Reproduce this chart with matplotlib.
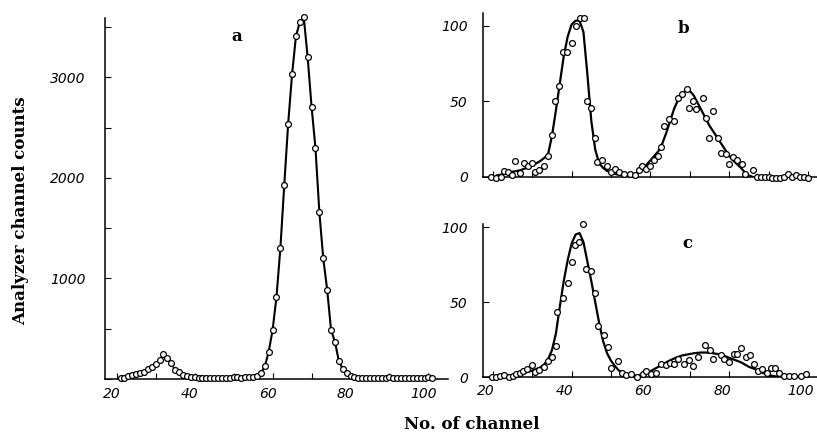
import matplotlib
matplotlib.use("Agg")
import matplotlib.pyplot as plt
import matplotlib.transforms as mtransforms
from matplotlib.ticker import MultipleLocator

# Painel a: contagens por canal (21..101)
a_ch = list(range(21, 102))
a_counts = [8, 15, 25, 38, 45, 56, 73, 95, 120, 150,          # 21-30
            188, 248, 205, 155, 90, 65, 42, 28, 20, 16,       # 31-40
            15, 14, 13, 12, 12, 13, 12, 14, 15, 16,           # 41-50
            18, 15, 16, 18, 22, 30, 60, 125, 270, 485,        # 51-60
            815, 1300, 1930, 2540, 3030, 3410, 3550, 3600, 3200, 2710,  # 61-70
            2300, 1660, 1200, 890, 490, 370, 180, 100, 56, 30,  # 71-80
            20, 15, 12, 12, 13, 12, 14, 15, 13, 16,           # 81-90
            14, 13, 15, 14, 13, 12, 14, 13, 15, 16, 14]       # 91-101

# Painel b: pontos medidos
b_ch = [19.6, 20.7, 22, 22.8, 23.8, 24.9, 25.6, 26.9, 27.9, 29, 30, 30.8, 31.7, 33,
        34, 34.9, 35.9, 36.9, 37.9, 38.9, 40.2, 41, 42.1, 43.1, 43.8, 45, 46, 46.5,
        47.8, 49, 49.9, 51, 52, 53.2, 54.7, 56, 57, 57.9, 59, 60, 61, 62, 62.8, 63.5,
        64.8, 66, 66.9, 68.1, 69.2, 69.8, 70.8, 71.7, 73.4, 74, 74.8, 75.9, 77.2, 77.9,
        79.2, 80, 81, 82.1, 83.2, 84, 86, 87, 88, 89, 90, 91, 92, 93, 94, 95, 96, 97,
        98, 99, 100]
b_counts = [0, -1, 0, 4, 3, 1, 10.6, 2.6, 9.5, 7, 9.5, 3, 4.4, 7,
            14, 28, 50.5, 60, 83, 83, 88.5, 100, 105, 105, 50, 45.8, 25.8, 10,
            11.3, 7.3, 3.6, 5.3, 3, 2, 2, 1.3, 4.7, 7.3, 5, 7.3, 11.3, 14, 20, 34,
            38.5, 37, 52, 55, 58.5, 46, 50, 44.7, 52.5, 39, 26, 43.5, 25.5, 15.8,
            15.3, 8.7, 13, 11.3, 8.7, 1.8, 4.7, 0, 0, 0, 0, -0.5, -1, -1, 0, 2, 0, 1,
            0, 0, -0.5]

# Painel b: curva ajustada
b_fit_ch = list(range(21, 87))
b_fit = [1, 1.5, 2, 3, 3.5, 4, 4.5, 5.5, 6.5, 7.5,
         9, 10.5, 12.5, 15, 27, 44, 62, 80, 93, 101,
         103.5, 103.5, 96, 68, 37, 18, 9, 6, 4, 3,
         2, 1.5, 1, 1, 1.5, 2, 3, 5, 8, 11,
         14, 17, 22, 29, 37, 45, 51, 55, 57.5, 57,
         54, 49, 44, 39, 34, 30, 26, 22, 18, 14,
         11, 8.5, 6, 3, 1, 0]

# Painel c: pontos medidos
c_ch = [19.8, 20.8, 21.9, 22.9, 24, 25, 26, 26.9, 27.7, 28.6, 29.9, 30.8, 31.8, 32.9,
        33.9, 35, 36, 36.3, 37.9, 39, 40, 40.8, 41.8, 42.8, 43.6, 44.9, 46, 46.6,
        48.1, 49.3, 50, 51.8, 52.7, 53.8, 55.2, 56.5, 58, 59, 60.1, 61.4, 62.8, 63.9,
        64.9, 66, 67.1, 68.6, 69.7, 70.9, 72.2, 73.9, 75.1, 75.8, 77.9, 78.7, 80, 81.2,
        82.1, 83.1, 84.4, 85.2, 86.2, 87.2, 88.4, 89.7, 90.5, 91.6, 92.7, 93.9, 95.2,
        96.5, 98.2, 99.4]
c_counts = [0.4, 0, 1, 1.5, 0, 1, 2.2, 3, 4.4, 5.3, 8, 3.8, 4.9, 7,
            10.8, 13.7, 21, 43.6, 53, 63, 77, 88, 90, 102, 72, 71, 56, 34,
            28, 20, 6, 11, 2.7, 1.5, 2.2, 0.4, 2.2, 4.4, 2.2, 3, 8.6, 8.2,
            9.3, 8.8, 12, 8.8, 11.5, 7.7, 13.7, 21.5, 18, 12, 14.8, 12, 10, 15.3,
            15.3, 19.7, 13.3, 14.8, 8.8, 4.4, 5.3, 3, 6, 6, 2.7, 1, 1,
            1, 1, 2.2]

# Painel c: curva ajustada
c_fit_ch = list(range(21, 94))
c_fit = [0.3, 0.5, 0.8, 1, 1.5, 2, 2.5, 3, 3.7, 4.5,
         5.5, 6.5, 8.5, 12, 18, 29, 47, 64, 78, 89,
         95, 96, 90, 77, 64, 50, 36, 24, 16, 11,
         7.5, 4.5, 2.5, 1.5, 1, 1, 1.5, 2, 3, 4,
         5.5, 7, 8.5, 10, 11.3, 12.5, 13.5, 14.5, 15, 15.5,
         16, 16.3, 16.5, 16.5, 16.3, 16, 15.5, 15, 14, 13,
         12, 11, 10, 8.5, 7, 6, 5, 3.5, 2.5, 1.5,
         1, 0.5, 0]

tick_font = dict(family="DejaVu Sans", style="italic", size=10)
label_font = dict(family="DejaVu Serif", weight="bold")
mk = dict(marker="o", ms=4.2, mfc="white", mec="black", mew=0.9, ls="none", clip_on=False, zorder=3)


def style_axes(ax):
    for s in ["top", "right"]:
        ax.spines[s].set_visible(False)
    for s in ["left", "bottom"]:
        ax.spines[s].set_linewidth(1.1)
    ax.tick_params(which="both", direction="in", length=4, width=0.8)
    ax.xaxis.set_minor_locator(MultipleLocator(10))


def shift_xlabels(ax, dx_px):
    # os rotulos do original ficam um pouco a esquerda das marcas
    off = mtransforms.ScaledTranslation(dx_px / 100, 0, fig.dpi_scale_trans)
    for lab in ax.get_xticklabels():
        lab.set_transform(lab.get_transform() + off)


fig = plt.figure(figsize=(8.17, 4.34), dpi=100)

# --- a ---
ax_a = fig.add_axes([0.1285, 0.1267, 0.4198, 0.8318])
style_axes(ax_a)
i55 = a_ch.index(55)
i82 = a_ch.index(82)
ax_a.plot(a_ch[i55:i82 + 1], a_counts[i55:i82 + 1], color="black", lw=1.5, zorder=2)
ax_a.plot(a_ch[:a_ch.index(41)], a_counts[:a_ch.index(41)], color="black", lw=1.4, ls=":", zorder=2)
ax_a.plot(a_ch, a_counts, **mk)
ax_a.set_xlim(17, 105)
ax_a.set_ylim(0, 3590)
ax_a.set_xticks([20, 40, 60, 80, 100])
ax_a.set_yticks([1000, 2000, 3000])
ax_a.yaxis.set_minor_locator(MultipleLocator(500))
ax_a.tick_params(axis="y", which="major", pad=14)
ax_a.tick_params(axis="x", which="major", pad=6)
ax_a.set_xticklabels(["20", "40", "60", "80", "100"], **tick_font)
ax_a.set_yticklabels(["1000", "2000", "3000"], **tick_font)
shift_xlabels(ax_a, -5)

# --- b ---
ax_b = fig.add_axes([0.5912, 0.5922, 0.4088, 0.3779])
style_axes(ax_b)
ax_b.plot(b_fit_ch, b_fit, color="black", lw=1.6, zorder=2)
ax_b.plot(b_ch, b_counts, **mk)
ax_b.set_xlim(17.5, 102.3)
ax_b.set_ylim(0, 108.6)
ax_b.set_xticks([20, 40, 60, 80, 100])
ax_b.set_xticklabels([])
ax_b.set_yticks([0, 50, 100])
ax_b.tick_params(axis="y", which="major", pad=11)
ax_b.set_yticklabels(["0", "50", "100"], **tick_font)

# --- c ---
ax_c = fig.add_axes([0.5912, 0.1306, 0.4088, 0.3532])
style_axes(ax_c)
ax_c.plot(c_fit_ch, c_fit, color="black", lw=1.6, zorder=2)
ax_c.plot(c_ch, c_counts, **mk)
ax_c.set_xlim(17.5, 102.3)
ax_c.set_ylim(0, 102)
ax_c.set_xticks([20, 40, 60, 80, 100])
ax_c.set_yticks([0, 50, 100])
ax_c.tick_params(axis="y", which="major", pad=11)
ax_c.tick_params(axis="x", which="major", pad=5)
ax_c.set_xticklabels(["20", "40", "60", "80", "100"], **tick_font)
ax_c.set_yticklabels(["0", "50", "100"], **tick_font)
shift_xlabels(ax_c, -7)

# letras dos paineis e titulos dos eixos
fig.text(0.290, 0.915, "a", ha="center", va="center", size=12, **label_font)
fig.text(0.836, 0.935, "b", ha="center", va="center", size=12, **label_font)
fig.text(0.842, 0.440, "c", ha="center", va="center", size=12, **label_font)
fig.text(0.025, 0.515, "Analyzer channel counts", rotation=90, ha="center", va="center", size=12, **label_font)
fig.text(0.578, 0.021, "No. of channel", ha="center", va="center", size=12, **label_font)

fig.savefig("out.png", dpi=100)
